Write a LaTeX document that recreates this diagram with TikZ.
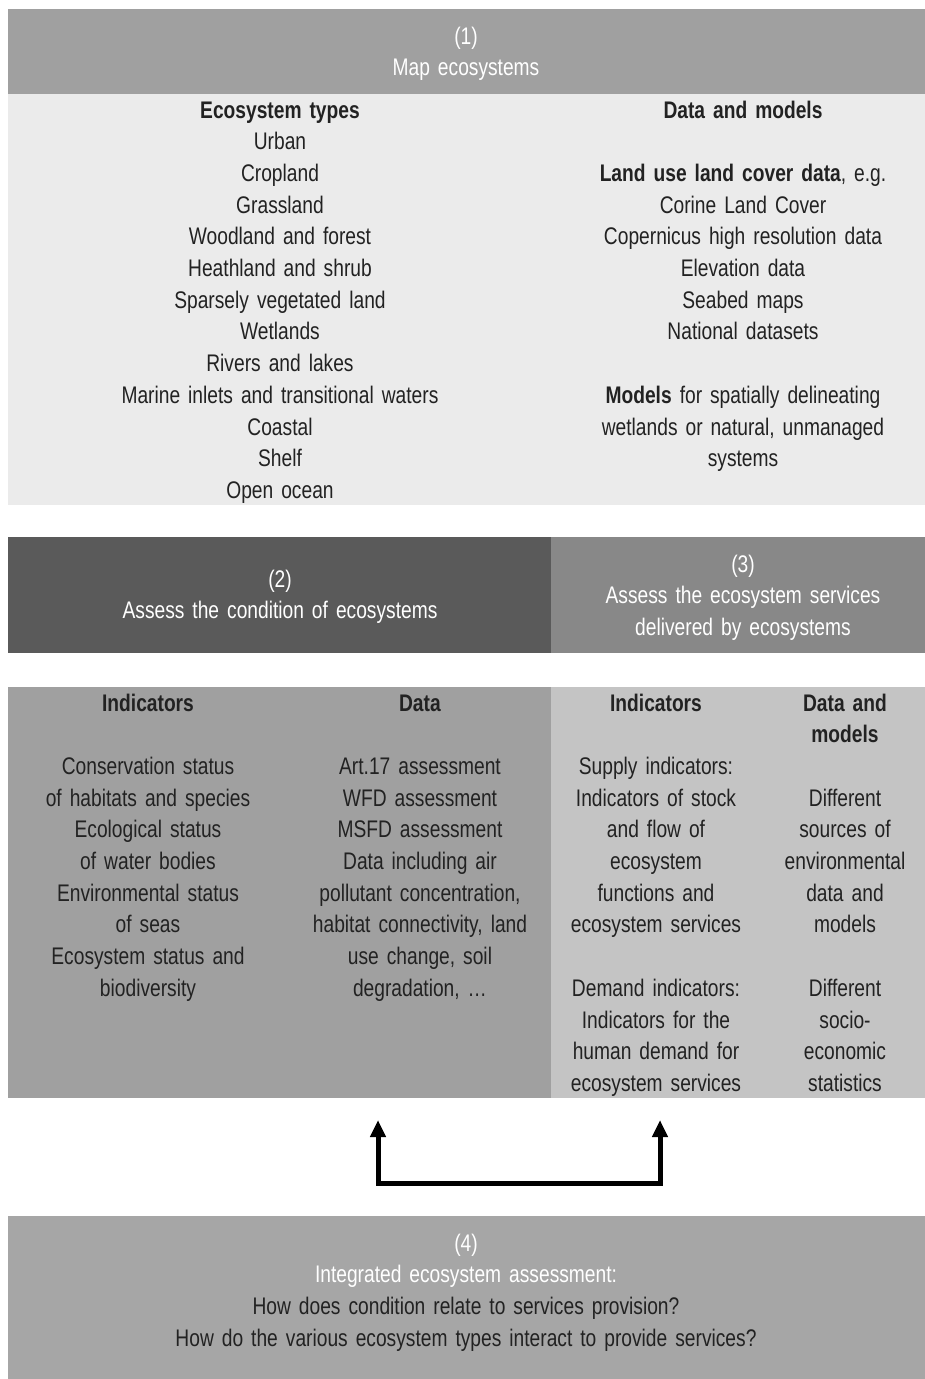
\documentclass[tikz,border=0pt]{standalone}
\usepackage{fontspec}
\setmainfont{Liberation Sans}[FakeStretch=0.8, WordSpace=0.8]
\usepackage{xcolor}
\usepackage{tikz}
\usetikzlibrary{positioning,calc,arrows.meta}

\definecolor{mapgray}{HTML}{A0A0A0}
\definecolor{mapbody}{HTML}{EBEBEB}
\definecolor{condgray}{HTML}{5A5A5A}
\definecolor{servgray}{HTML}{888888}
\definecolor{condbody}{HTML}{A0A0A0}
\definecolor{servbody}{HTML}{C4C4C4}
\definecolor{iegray}{HTML}{A6A6A6}
\definecolor{ink}{HTML}{222222}

\begin{document}
\begin{tikzpicture}[x=1pt, y=-1pt,
    panel/.style={draw=none, inner sep=0pt, outer sep=0pt, anchor=north west},
    txt/.style={inner sep=0pt, anchor=base, align=center, text=ink,
        font=\fontsize{24}{31.7}\selectfont},
    whitetxt/.style={txt, text=white},
    loopline/.style={line width=5pt,
        {Triangle[length=17pt,width=15pt]}-{Triangle[length=17pt,width=15pt]}}]
    \useasboundingbox (0,0) rectangle (925,1379);

    % (1) Map ecosystems
    \node[panel, fill=mapgray, minimum width=917pt, minimum height=85pt] (maphead) at (8,9) {};
    \node[panel, fill=mapbody, minimum width=917pt, minimum height=411pt] (mapbody) at (8,94) {};
    \node[whitetxt, text width=600pt] (maptitle) at (466,44) {(1)\\Map ecosystems};
    \node[txt, text width=440pt] (ecotypes) at (280,118) {\textbf{Ecosystem types}\\Urban\\Cropland\\Grassland\\Woodland and forest\\Heathland and shrub\\Sparsely vegetated land\\Wetlands\\Rivers and lakes\\Marine inlets and transitional waters\\Coastal\\Shelf\\Open ocean};
    \node[txt, text width=340pt] (mapdata) at (743,118) {\textbf{Data and models}\\[31.7pt]\textbf{Land use land cover data}, e.g.\\Corine Land Cover\\Copernicus high resolution data\\Elevation data\\Seabed maps\\National datasets\\[31.7pt]\textbf{Models} for spatially delineating\\wetlands or natural, unmanaged\\systems};

    % (2) Condition and (3) Services
    \node[panel, fill=condgray, minimum width=543pt, minimum height=116pt] (condhead) at (8,537) {};
    \node[panel, fill=servgray, minimum width=374pt, minimum height=116pt] (servhead) at (551,537) {};
    \node[whitetxt, text width=500pt] (condtitle) at (280,587) {(2)\\Assess the condition of ecosystems};
    \node[whitetxt, text width=360pt] (servtitle) at (743,572) {(3)\\Assess the ecosystem services\\delivered by ecosystems};

    \node[panel, fill=condbody, minimum width=543pt, minimum height=411pt] (condbody) at (8,687) {};
    \node[panel, fill=servbody, minimum width=374pt, minimum height=411pt] (servbody) at (551,687) {};
    \node[txt, text width=270pt] (condind) at (148,711) {\textbf{Indicators}\\[31.7pt]Conservation status\\of habitats and species\\Ecological status\\of water bodies\\Environmental status\\of seas\\Ecosystem status and\\biodiversity};
    \node[txt, text width=260pt] (conddata) at (420,711) {\textbf{Data}\\[31.7pt]Art.17 assessment\\WFD assessment\\MSFD assessment\\Data including air\\pollutant concentration,\\habitat connectivity, land\\use change, soil\\degradation, …};
    \node[txt, text width=200pt] (servind) at (656,711) {\textbf{Indicators}\\[31.7pt]Supply indicators:\\Indicators of stock\\and flow of\\ecosystem\\functions and\\ecosystem services\\[31.7pt]Demand indicators:\\Indicators for the\\human demand for\\ecosystem services};
    \node[txt, text width=150pt] (servdata) at (845,711) {\textbf{Data and}\\\textbf{models}\\[31.7pt]Different\\sources of\\environmental\\data and\\models\\[31.7pt]Different\\socio-\\economic\\statistics};

    % link between (2) and (3)
    \coordinate (condtip) at (378,1120);
    \coordinate (servtip) at (660,1120);
    \draw[loopline] (condtip) -- ++(0,63) -| (servtip);

    % (4) Integrated assessment
    \node[panel, fill=iegray, minimum width=917pt, minimum height=163pt] (iebox) at (8,1216) {};
    \node[whitetxt, text width=800pt] (ietitle) at (466,1251) {(4)\\Integrated ecosystem assessment:\\\textcolor{ink}{How does condition relate to services provision?}\\\textcolor{ink}{How do the various ecosystem types interact to provide services?}};
\end{tikzpicture}
\end{document}
